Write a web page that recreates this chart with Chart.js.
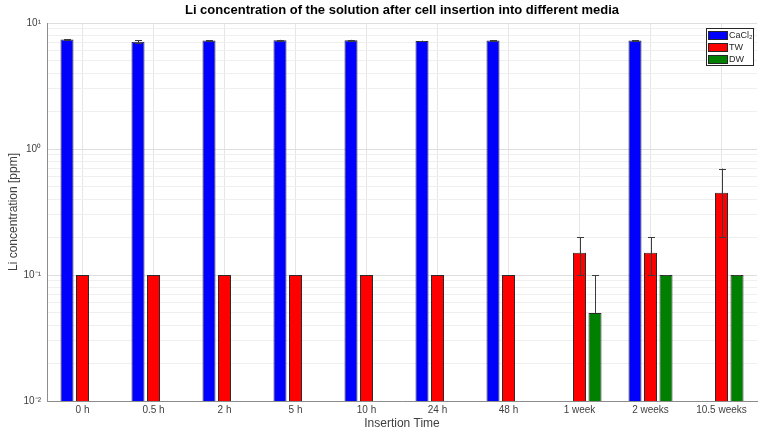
<!DOCTYPE html>
<html>
<head>
<meta charset="utf-8">
<script src="https://cdn.jsdelivr.net/npm/chart.js@4.4.1/dist/chart.umd.min.js"></script>
<style>
  html, body { margin: 0; padding: 0; background: #fff; }
  #wrap { width: 768px; height: 438px; }
</style>
</head>
<body>
<div id="wrap"><canvas id="chart"></canvas></div>
<script>
// data
const categories = ['0 h', '0.5 h', '2 h', '5 h', '10 h', '24 h', '48 h', '1 week', '2 weeks', '10.5 weeks'];
const cacl2 = [7.4, 7.1, 7.25, 7.3, 7.3, 7.2, 7.25, null, 7.25, null];
const cacl2Err = [0.05, 0.2, 0.05, 0.05, 0.05, 0.05, 0.05, null, 0.05, null];
const tw = [0.1, 0.1, 0.1, 0.1, 0.1, 0.1, 0.1, 0.15, 0.15, 0.45];
const twErrLow = [null, null, null, null, null, null, null, 0.05, 0.05, 0.25];
const twErrHigh = [null, null, null, null, null, null, null, 0.05, 0.05, 0.25];
const dw = [null, null, null, null, null, null, null, 0.05, 0.1, 0.1];
const dwErr = [null, null, null, null, null, null, null, 0.05, 0, 0];
const yTicks = [0.01, 0.1, 1, 10];
const yTickLabels = ['10⁻²', '10⁻¹', '10⁰', '10¹'];

const FONT = "'Liberation Sans', Arial, Helvetica, sans-serif";

// error bars on top of the bars
const errorBars = {
  id: 'errorBars',
  afterDatasetsDraw(chart) {
    const ctx = chart.ctx;
    const y = chart.scales.y;
    ctx.save();
    ctx.strokeStyle = '#3c3c3c';
    ctx.lineWidth = 1;
    chart.data.datasets.forEach((ds, di) => {
      const meta = chart.getDatasetMeta(di);
      ds.data.forEach((v, i) => {
        const lo = ds.errLow[i], hi = ds.errHigh[i];
        if (v == null || hi == null) return;
        const x = Math.round(meta.data[i].x) + 0.5;
        const yTop = y.getPixelForValue(v + hi);
        const yBot = v - lo > 0 ? y.getPixelForValue(v - lo) : y.getPixelForValue(v);
        ctx.beginPath();
        ctx.moveTo(x, yTop);
        ctx.lineTo(x, yBot);
        ctx.moveTo(x - 3.5, Math.round(yTop) + 0.5);
        ctx.lineTo(x + 3.5, Math.round(yTop) + 0.5);
        if (v - lo > 0) {
          ctx.moveTo(x - 3.5, Math.round(yBot) + 0.5);
          ctx.lineTo(x + 3.5, Math.round(yBot) + 0.5);
        }
        ctx.stroke();
      });
    });
    ctx.restore();
  }
};

// boxed legend in the top right corner of the axes
const boxLegend = {
  id: 'boxLegend',
  afterDraw(chart) {
    const ctx = chart.ctx;
    const a = chart.chartArea;
    const w = 47, h = 37;
    const left = a.right - 4 - w, top = a.top + 5;
    ctx.save();
    ctx.fillStyle = '#fff';
    ctx.fillRect(left, top, w, h);
    ctx.strokeStyle = '#262626';
    ctx.lineWidth = 1;
    ctx.strokeRect(left + 0.5, top + 0.5, w, h);
    ctx.font = '9px ' + FONT;
    ctx.textBaseline = 'middle';
    chart.data.datasets.forEach((ds, i) => {
      const cy = top + 7 + i * 12;
      ctx.fillStyle = ds.backgroundColor;
      ctx.fillRect(left + 2, cy - 4, 19, 8);
      ctx.strokeStyle = '#262626';
      ctx.strokeRect(left + 2.5, cy - 3.5, 19, 8);
      ctx.fillStyle = '#262626';
      ctx.fillText(ds.label, left + 23, cy + 0.5);
    });
    ctx.restore();
  }
};

const barStyle = { borderColor: '#2a2a2a', borderWidth: 1, categoryPercentage: 0.655, barPercentage: 0.84 };

new Chart(document.getElementById('chart'), {
  type: 'bar',
  data: {
    labels: categories,
    datasets: [
      Object.assign({ label: 'CaCl₂', data: cacl2, backgroundColor: '#0000ff', errLow: cacl2Err, errHigh: cacl2Err }, barStyle),
      Object.assign({ label: 'TW', data: tw, backgroundColor: '#ff0000', errLow: twErrLow, errHigh: twErrHigh }, barStyle),
      Object.assign({ label: 'DW', data: dw, backgroundColor: '#008000', errLow: dwErr, errHigh: dwErr }, barStyle)
    ]
  },
  options: {
    responsive: true,
    maintainAspectRatio: false,
    animation: false,
    layout: { padding: { left: 0, right: 11, top: 0, bottom: 0 } },
    plugins: {
      legend: { display: false },
      tooltip: { enabled: false },
      title: {
        display: true,
        fullSize: false,
        text: 'Li concentration of the solution after cell insertion into different media',
        color: '#000',
        font: { family: FONT, size: 13, weight: 'bold' },
        padding: { top: 3, bottom: 4.4 }
      }
    },
    scales: {
      x: {
        afterFit: s => { s.height = 37; },
        grid: { offset: false, color: '#e6e6e6', drawTicks: false },
        border: { color: '#8c8c8c' },
        ticks: { color: '#404040', font: { family: FONT, size: 10 }, padding: 3, maxRotation: 0 },
        title: { display: true, text: 'Insertion Time', color: '#404040', font: { family: FONT, size: 12 }, padding: { top: 0, bottom: 7 } }
      },
      y: {
        type: 'logarithmic',
        min: 0.01,
        max: 10,
        afterFit: s => { s.width = 47; },
        afterBuildTicks: s => {
          const t = [];
          for (let d = 0; d < yTicks.length - 1; d++) {
            for (let k = 1; k < 10; k++) t.push({ value: yTicks[d] * k });
          }
          t.push({ value: yTicks[yTicks.length - 1] });
          s.ticks = t;
        },
        grid: {
          drawTicks: false,
          color: c => (yTicks.some(v => Math.abs(v - c.tick.value) < v * 1e-6) ? '#dedede' : '#efefef')
        },
        border: { color: '#8c8c8c' },
        ticks: {
          autoSkip: false,
          color: '#404040',
          font: { family: FONT, size: 10 },
          padding: 6,
          callback: v => {
            const i = yTicks.findIndex(d => Math.abs(d - v) < d * 1e-6);
            return i >= 0 ? yTickLabels[i] : '';
          }
        },
        title: { display: true, text: 'Li concentration [ppm]', color: '#404040', font: { family: FONT, size: 12 }, padding: { top: 6, bottom: 0 } }
      }
    }
  },
  plugins: [errorBars, boxLegend]
});
</script>
</body>
</html>
